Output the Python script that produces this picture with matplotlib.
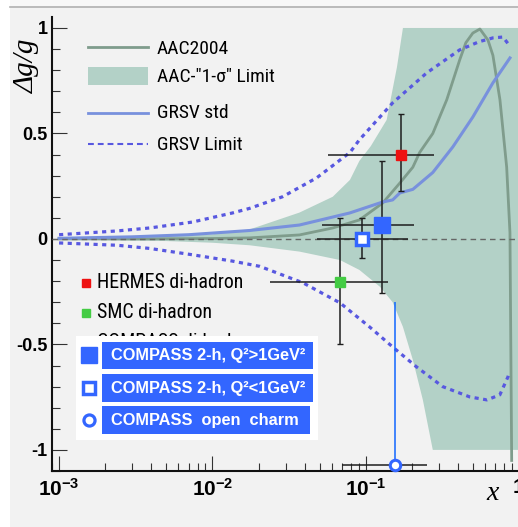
import numpy as np
import matplotlib
matplotlib.use("Agg")
import matplotlib.pyplot as plt
from matplotlib.lines import Line2D
from matplotlib.patches import Rectangle
from matplotlib.ticker import FixedLocator, FixedFormatter, MultipleLocator, LogLocator, NullFormatter

plt.rcParams['font.family'] = ['Liberation Sans', 'DejaVu Sans']
plt.rcParams['mathtext.fontset'] = 'custom'
plt.rcParams['mathtext.rm'] = 'Liberation Sans'
plt.rcParams['mathtext.bf'] = 'Liberation Sans:bold'
plt.rcParams['mathtext.it'] = 'Liberation Serif:italic'
NARROW = ['Roboto Condensed', 'Liberation Sans Narrow', 'Liberation Sans']

# ---- curves ----
aac_x = [0.001, 0.003, 0.01, 0.0175, 0.037, 0.061, 0.091, 0.129, 0.167, 0.203, 0.225,
         0.274, 0.338, 0.411, 0.45, 0.50, 0.556, 0.627, 0.676, 0.751, 0.831, 0.873, 0.896]
aac_y = [0.0, 0.0, 0.002, 0.005, 0.019, 0.052, 0.09, 0.17, 0.265, 0.34, 0.41,
         0.50, 0.66, 0.85, 0.93, 0.976, 0.995, 0.943, 0.87, 0.66, 0.34, 0.03, -1.05]

band_hi_x = [0.001, 0.005, 0.01, 0.0175, 0.037, 0.061, 0.079, 0.091, 0.108, 0.137, 0.16, 0.175, 1.0]
band_hi_y = [0.003, 0.012, 0.022, 0.045, 0.125, 0.2, 0.28, 0.37, 0.44, 0.564, 0.815, 1.0, 1.0]
band_lo_x = [0.001, 0.005, 0.01, 0.0175, 0.037, 0.068, 0.091, 0.124, 0.15, 0.175, 0.203, 0.236, 0.274, 1.0]
band_lo_y = [-0.003, -0.01, -0.018, -0.03, -0.06, -0.10, -0.147, -0.227, -0.30, -0.417, -0.573, -0.763, -1.0, -1.0]

grsv_x = [0.001, 0.003, 0.007, 0.0175, 0.037, 0.0786, 0.129, 0.15, 0.167, 0.203, 0.274, 0.37, 0.5, 0.676, 0.873]
grsv_y = [0.003, 0.01, 0.02, 0.04, 0.066, 0.123, 0.175, 0.185, 0.218, 0.235, 0.315, 0.436, 0.578, 0.74, 0.858]

lim_up_x = [0.001, 0.0024, 0.0039, 0.0074, 0.0135, 0.0175, 0.0287, 0.048, 0.079, 0.091,
            0.15, 0.25, 0.41, 0.55, 0.676, 0.786, 0.86]
lim_up_y = [0.02, 0.038, 0.052, 0.08, 0.123, 0.145, 0.2, 0.29, 0.41, 0.47,
            0.645, 0.787, 0.896, 0.935, 0.953, 0.957, 0.92]
lim_lo_x = [0.001, 0.0024, 0.0039, 0.0074, 0.0135, 0.0204, 0.039, 0.068, 0.106, 0.15,
            0.215, 0.318, 0.478, 0.618, 0.75, 0.847, 0.86]
lim_lo_y = [-0.019, -0.03, -0.045, -0.075, -0.105, -0.13, -0.208, -0.303, -0.417, -0.512,
            -0.607, -0.70, -0.749, -0.763, -0.739, -0.654, -0.635]

# ---- data points: x, y, x range, y range ----
hermes = dict(x=0.17, y=0.40, xlo=0.057, xhi=0.278, ylo=0.227, yhi=0.592)
smc = dict(x=0.0676, y=-0.204, xlo=0.0236, xhi=0.139, ylo=-0.498, yhi=0.10)
c_hi = dict(x=0.127, y=0.066, xlo=0.052, xhi=0.206, ylo=-0.256, yhi=0.37)
c_lo = dict(x=0.094, y=0.0, xlo=0.048, xhi=0.188, ylo=-0.092, yhi=0.098)
charm = dict(x=0.155, y=-1.07, xlo=0.0697, xhi=0.25, yhi=-0.30)

ytick_vals = [-1, -0.5, 0, 0.5, 1]
ytick_labels = ['-1', '-0.5', '0', '0.5', '1']
xtick_vals = [1e-3, 1e-2, 1e-1, 1]
xtick_labels = [r'$\mathbf{10^{-3}}$', r'$\mathbf{10^{-2}}$', r'$\mathbf{10^{-1}}$', r'$\mathbf{1}$']

C_AAC = '#7f9c8c'
C_BAND = '#b3d1c7'
C_STD = '#7891dd'
C_LIM = '#5858e0'
C_BLUE = '#3366ff'
C_ERR = '#1e1e1e'

W, H = 518, 527
def fx(p): return p / W
def fy(p): return 1 - p / H

fig = plt.figure(figsize=(5.18, 5.27), dpi=100, facecolor='#f2f2f2')
fig.add_artist(Rectangle((0, 0), fx(10), 1, transform=fig.transFigure,
                         facecolor='white', edgecolor='none', zorder=-10))
fig.add_artist(Rectangle((fx(10), fy(7)), 1, 1, transform=fig.transFigure,
                         facecolor='#f7f7f7', edgecolor='none', zorder=-10))
fig.add_artist(Line2D([fx(10), 1], [fy(7), fy(7)], transform=fig.transFigure,
                      color='#b0b0b0', lw=1.2, zorder=-9))

ax = fig.add_axes([fx(52), fy(471), (519 - 52) / W, (471 - 17) / H])
ax.patch.set_visible(False)
ax.set_xscale('log')
ax.set_xlim(10 ** -3.046, 1.0)
ax.set_ylim(-1.10, 1.052)
for s in ['top', 'right']:
    ax.spines[s].set_visible(False)
for s in ['left', 'bottom']:
    ax.spines[s].set_linewidth(1.5)
    ax.spines[s].set_color('#111111')

ax.fill(band_hi_x + band_lo_x[::-1], band_hi_y + band_lo_y[::-1],
        color=C_BAND, lw=0, zorder=1)
ax.plot(aac_x, aac_y, color=C_AAC, lw=2.0, zorder=2)
ax.plot(grsv_x, grsv_y, color=C_STD, lw=2.2, zorder=3)
ax.plot(lim_up_x, lim_up_y, color=C_LIM, lw=2.3, ls=(0, (1.3, 1.4)), zorder=3)
ax.plot(lim_lo_x, lim_lo_y, color=C_LIM, lw=2.3, ls=(0, (1.3, 1.4)), zorder=3)
ax.axhline(0, color='#666666', lw=1.0, ls=(0, (4, 3)), zorder=3)

def err(p, ycol=C_ERR, caps=True):
    ax.errorbar([p['x']], [p['y']], xerr=[[p['x'] - p['xlo']], [p['xhi'] - p['x']]],
                fmt='none', ecolor=C_ERR, elinewidth=1.1, capsize=0, zorder=4)
    ylo = p.get('ylo', p['y'])
    ax.errorbar([p['x']], [p['y']], yerr=[[p['y'] - ylo], [p['yhi'] - p['y']]],
                fmt='none', ecolor=ycol, elinewidth=1.1,
                capsize=2.5 if caps else 0, capthick=1.0, zorder=4)

err(hermes)
err(smc)
err(c_hi)
err(c_lo)
err(charm, ycol='#1166ff', caps=False)

ax.plot([hermes['x']], [hermes['y']], 's', color='#ee1111', ms=7, mec='#ee1111', zorder=5)
ax.plot([smc['x']], [smc['y']], 's', color='#44cc44', ms=6.5, mec='#44cc44', zorder=5)
ax.plot([c_hi['x']], [c_hi['y']], 's', color=C_BLUE, ms=11.5, mec=C_BLUE, zorder=5)
ax.plot([c_lo['x']], [c_lo['y']], 's', mfc='white', mec=C_BLUE, ms=9, mew=2.5, zorder=5)
ax.plot([charm['x']], [charm['y']], 'o', mfc='white', mec=C_BLUE, ms=7.5, mew=2.2,
        zorder=6, clip_on=False)

# ticks
ax.yaxis.set_major_locator(FixedLocator(ytick_vals))
ax.yaxis.set_major_formatter(FixedFormatter(ytick_labels))
ax.yaxis.set_minor_locator(MultipleLocator(0.1))
ax.xaxis.set_major_locator(FixedLocator(xtick_vals))
ax.xaxis.set_major_formatter(FixedFormatter(xtick_labels))
ax.xaxis.set_minor_locator(LogLocator(base=10, subs=range(2, 10), numticks=20))
ax.xaxis.set_minor_formatter(NullFormatter())
ax.tick_params(which='major', direction='in', length=10.5, width=0.8, color='#333333')
ax.tick_params(which='minor', direction='in', length=5.5, width=0.8, color='#333333')
ax.tick_params(axis='y', which='major', pad=3)
ax.tick_params(axis='x', which='major', pad=5, labelsize=15)
for t in ax.get_yticklabels():
    t.set_fontsize(13)
    t.set_fontweight('bold')

fig.text(fx(27), fy(66), 'Δg/g', rotation=90, family=['Liberation Serif', 'DejaVu Serif'],
         style='italic', size=21, ha='center', va='center')
fig.text(fx(493), fy(494), 'x', family=['Liberation Serif', 'DejaVu Serif'],
         style='italic', size=20, ha='center', va='center')

# ---- legend, upper ----
tf = fig.transFigure
fig.add_artist(Line2D([fx(88), fx(148)], [fy(47), fy(47)], transform=tf, color=C_AAC, lw=2.0))
fig.add_artist(Rectangle((fx(88), fy(85)), fx(60), 18 / H, transform=tf,
                         facecolor=C_BAND, edgecolor='none'))
fig.add_artist(Line2D([fx(88), fx(148)], [fy(113), fy(113)], transform=tf, color=C_STD, lw=2.0))
fig.add_artist(Line2D([fx(88), fx(148)], [fy(144), fy(144)], transform=tf, color=C_LIM,
                      lw=1.5, ls=(0, (2.8, 1.9))))
leg_font = dict(size=14, va='center', ha='left', family=NARROW)
fig.text(fx(157), fy(49), 'AAC2004', **leg_font)
fig.text(fx(157), fy(77), 'AAC-"1-σ" Limit', **leg_font)
fig.text(fx(157), fy(113), 'GRSV std', **leg_font)
fig.text(fx(157), fy(145), 'GRSV Limit', **leg_font)

# ---- legend, lower ----
fig.add_artist(Line2D([fx(86)], [fy(283)], transform=tf, marker='s', ms=6, color='#ee1111', ls='none'))
fig.add_artist(Line2D([fx(86)], [fy(313)], transform=tf, marker='s', ms=6, color='#44cc44', ls='none'))
fig.text(fx(97), fy(283), 'HERMES di-hadron', size=14.3, va='center', ha='left', family=NARROW)
fig.text(fx(97), fy(313), 'SMC di-hadron', size=14.3, va='center', ha='left', family=NARROW)
fig.text(fx(97), fy(343), 'COMPASS di-hadron', size=14.3, va='center', ha='left', zorder=3,
         family=NARROW)

fig.add_artist(Rectangle((fx(76), fy(440)), (318 - 76) / W, (440 - 336) / H, transform=tf,
                         facecolor='white', edgecolor='none', zorder=4))
rows = [(342, 369, 313, 'COMPASS 2-h, Q²>1GeV²'),
        (374, 402, 313, 'COMPASS 2-h, Q²<1GeV²'),
        (406, 434, 310, 'COMPASS  open  charm')]
for top, bot, right, label in rows:
    fig.add_artist(Rectangle((fx(102), fy(bot)), (right - 102) / W, (bot - top) / H,
                             transform=tf, facecolor=C_BLUE, edgecolor='none', zorder=5))
    fig.text(fx(111), fy((top + bot) / 2), label,
             weight='bold', size=11.8, color='white', va='center', ha='left', zorder=6)
fig.add_artist(Line2D([fx(89)], [fy(355)], transform=tf, marker='s', ms=11.5, color=C_BLUE,
                      ls='none', zorder=6))
fig.add_artist(Line2D([fx(89)], [fy(388)], transform=tf, marker='s', ms=9, mfc='white',
                      mec=C_BLUE, mew=2.5, ls='none', zorder=6))
fig.add_artist(Line2D([fx(89)], [fy(420)], transform=tf, marker='o', ms=8, mfc='white',
                      mec=C_BLUE, mew=2.3, ls='none', zorder=6))

fig.savefig('out.png', dpi=100, facecolor=fig.get_facecolor())
